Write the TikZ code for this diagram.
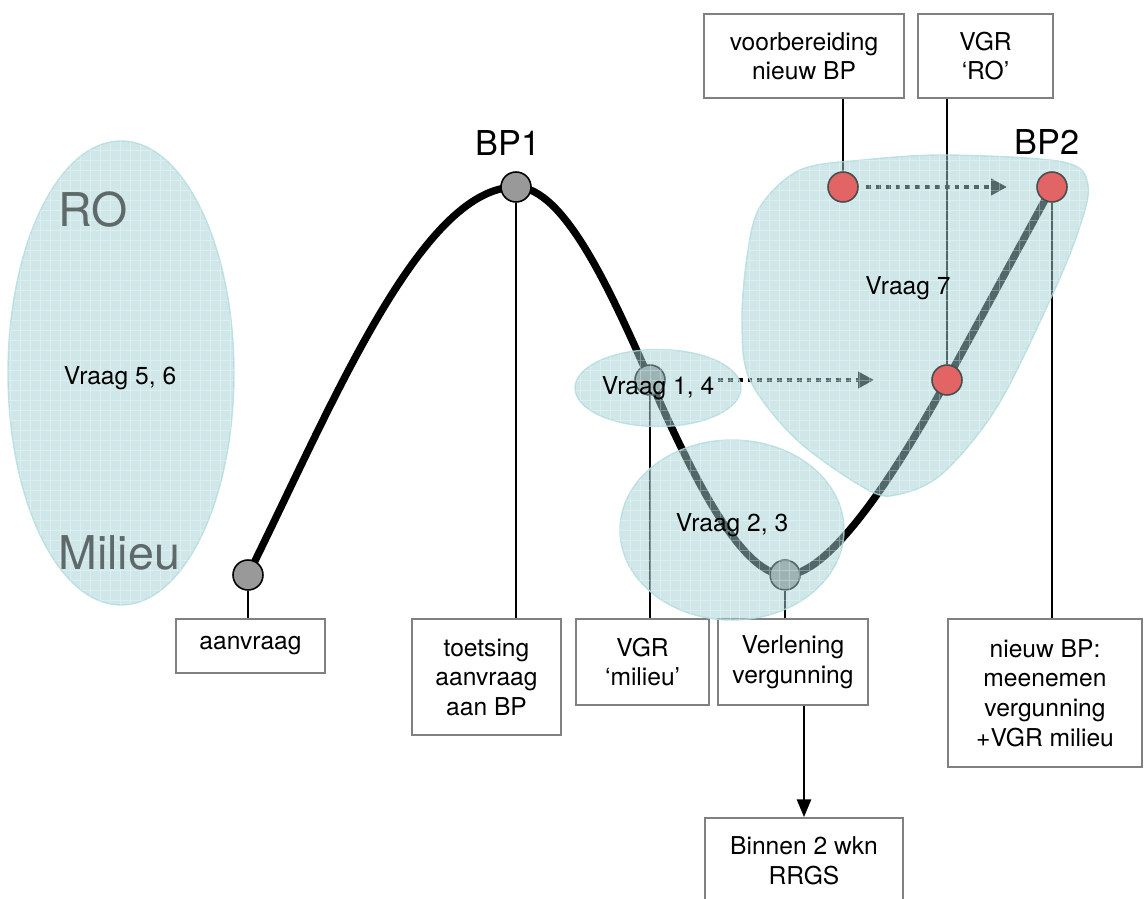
\documentclass[tikz,border=0pt]{standalone}
\usepackage{fontspec}
\setmainfont{TeX Gyre Heros}
\usetikzlibrary{arrows.meta}
\pgfdeclarelayer{background}
\pgfdeclarelayer{tintlayer}
\pgfdeclarelayer{toplayer}
\pgfsetlayers{background,main,tintlayer,toplayer}
\definecolor{tintc}{RGB}{160,208,212}
\definecolor{tintedge}{RGB}{178,220,222}
\definecolor{boxgray}{RGB}{128,128,128}
\definecolor{dotgray}{RGB}{70,78,78}
\definecolor{redc}{RGB}{226,100,100}
\definecolor{ptgray}{RGB}{153,153,153}
\definecolor{bigtxt}{RGB}{95,105,105}
\newcommand{\boxfont}{\fontsize{14}{16.8}\selectfont}
\begin{document}
\begin{tikzpicture}[x=0.02cm, y=-0.02cm,
  box/.style={draw=boxgray, line width=1.1pt, fill=white, align=center, inner sep=0pt, font=\boxfont},
  dot/.style={circle, draw=black, line width=0.9pt, fill=ptgray, minimum size=0.6cm, inner sep=0pt},
  reddot/.style={circle, draw=dotgray, line width=0.9pt, fill=redc, minimum size=0.6cm, inner sep=0pt},
  link/.style={draw=black, line width=0.85pt},
  curve/.style={draw=black, line width=4.2pt},
  dots/.style={draw=black, line width=2.8pt, dash pattern=on 2.8pt off 2.8pt, -{Triangle[length=9pt,width=9pt]}},
  tintfill/.style={fill=tintc, fill opacity=0.5, draw=tintedge, draw opacity=0.8, line width=0.8pt},
  gridl/.style={draw=white, opacity=0.3, line width=0.4pt},
  qlabel/.style={font=\boxfont, inner sep=0pt},
  bplabel/.style={font=\fontsize{19.5}{22}\selectfont, inner sep=0pt},
  biglabel/.style={font=\fontsize{26.5}{30}\selectfont, text=bigtxt, inner sep=0pt}]
\useasboundingbox (0,0) rectangle (1146,899);

% points on the curve
\node[dot] (a0) at (248,575) {};
\node[dot] (bp1) at (516,187) {};
\node[dot] (c14) at (650,380) {};
\node[dot] (c23) at (785,575) {};

% boxes
\node[box, minimum width=2.98cm, minimum height=1.08cm] (aanv) at (250.5,646) {aanvraag};
\node[box, minimum width=2.98cm, minimum height=2.32cm] (toets) at (486.5,677) {toetsing\\aanvraag\\aan BP};
\node[box, minimum width=2.66cm, minimum height=1.72cm] (vgrm) at (642.5,662) {VGR\\‘milieu’};
\node[box, minimum width=3.0cm, minimum height=1.72cm] (verl) at (793,662) {Verlening\\vergunning};
\node[box, minimum width=3.88cm, minimum height=2.96cm] (nieuw) at (1045,693) {nieuw BP:\\meenemen\\vergunning\\+VGR milieu};
\node[box, minimum width=3.96cm, minimum height=1.72cm] (binnen) at (804,861) {Binnen 2 wkn\\RRGS};
\node[box, minimum width=4.0cm, minimum height=1.68cm] (voorb) at (804,56) {voorbereiding\\nieuw BP};
\node[box, minimum width=2.7cm, minimum height=1.68cm] (vgrro) at (985.5,56) {VGR\\‘RO’};

% red points (on top of tint)
\begin{pgfonlayer}{toplayer}
\node[reddot] (r1) at (843,187) {};
\node[reddot] (r2) at (947,380) {};
\node[reddot] (bp2) at (1052,187) {};
\end{pgfonlayer}

% curve
\begin{pgfonlayer}{background}
\draw[curve] (a0.center) .. controls (330,410) and (420,187) .. (bp1.center)
  .. controls (565,187) and (612,295) .. (c14.center)
  .. controls (690,470) and (740,575) .. (c23.center)
  .. controls (830,577) and (900,466) .. (r2.center) -- (bp2.center);
\end{pgfonlayer}

% connectors
\draw[link] (a0) -- (a0 |- aanv.north);
\draw[link] (bp1) -- (bp1 |- toets.north);
\draw[link] (c14) -- (c14 |- vgrm.north);
\draw[link] (c23) -- (c23 |- verl.north);
\draw[link] (bp2) -- (bp2 |- nieuw.north);
\draw[link] (r1) -- (r1 |- voorb.south);
\draw[link] (r2) -- (r2 |- vgrro.south);
\draw[draw=black, line width=1.3pt, -{Triangle[length=10pt,width=8pt]}] (binnen.north |- verl.south) -- (binnen.north);

% dotted arrows
\coordinate (d1s) at (866,187);
\coordinate (d1e) at (1007,187);
\coordinate (d2s) at (718,380);
\coordinate (d2e) at (874,380);
\draw[dots] (d1s) -- (d1e);
\draw[dots] (d2s) -- (d2e);

% tinted regions
\def\shpA{(121,373) ellipse [x radius=113, y radius=232]}
\def\shpB{(658,388) ellipse [x radius=83, y radius=38.5]}
\def\shpC{(732,530) ellipse [x radius=112, y radius=90]}
\def\shpD{plot[smooth cycle, tension=0.55] coordinates {(760,207) (800,170) (863,160) (947,155) (1063,162) (1088,185) (1078,232) (1050,300) (997,407) (943,473) (900,494) (868,490) (797,440) (750,380) (742,323) (747,257)}}
\begin{pgfonlayer}{tintlayer}
\foreach \s in {\shpA,\shpB,\shpC,\shpD}{
  \fill[tintfill] \s;
  \begin{scope}
    \clip \s;
    \draw[gridl, step=0.2cm] (0,0) grid (1146,899);
  \end{scope}
}
\end{pgfonlayer}

% labels
\begin{pgfonlayer}{toplayer}
\node[biglabel, anchor=west] (ro) at (58,210) {RO};
\node[biglabel, anchor=west] (mil) at (58,553) {Milieu};
\node[qlabel] (q56) at (120,378) {Vraag 5, 6};
\node[qlabel] (q14) at (658,388) {Vraag 1, 4};
\node[qlabel] (q23) at (732,525) {Vraag 2, 3};
\node[qlabel] (q7) at (908,288) {Vraag 7};
\node[bplabel] (lbp1) at (508,143) {BP1};
\node[bplabel] (lbp2) at (1047,142) {BP2};
\end{pgfonlayer}
\end{tikzpicture}
\end{document}
